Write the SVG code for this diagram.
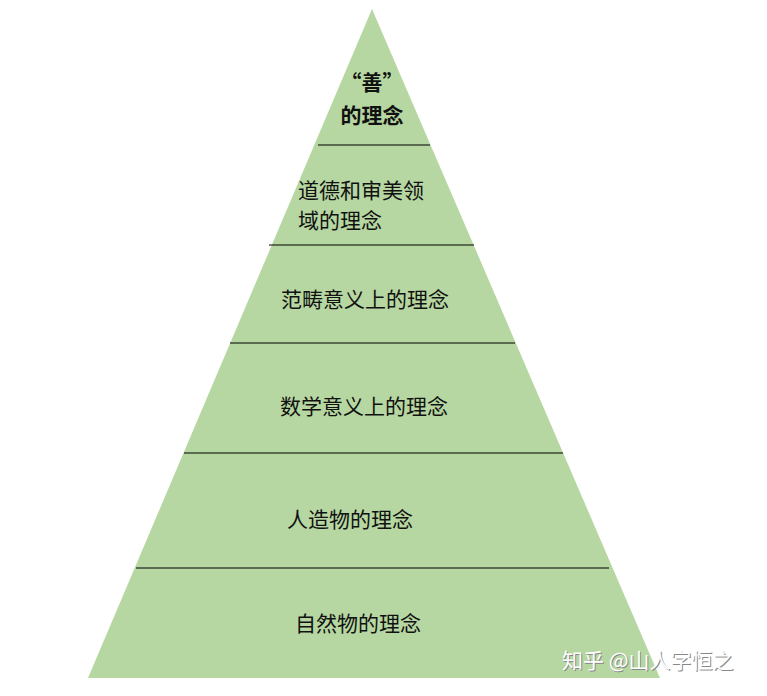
<svg xmlns="http://www.w3.org/2000/svg" width="767" height="696" viewBox="0 0 767 696">
<style>
.t{font-family:"Noto Sans CJK SC","Noto Sans CJK JP",sans-serif;font-size:21px;fill:#111}
.b{font-weight:bold}
.l{stroke:#000;stroke-width:1.2}
.w{font-family:"Noto Sans CJK SC",sans-serif;font-size:21px;fill:#fff}
</style>
<rect width="767" height="696" fill="#fff"/>
<g id="pyramid"><polygon points="372,9 88,678 660,678" fill="#b6d7a1"/></g>
<g id="connectors">
<line class="l" x1="318" y1="145" x2="430" y2="145"/>
<line class="l" x1="269" y1="245" x2="474" y2="245"/>
<line class="l" x1="230" y1="343" x2="515" y2="343"/>
<line class="l" x1="184" y1="453" x2="563" y2="453"/>
<line class="l" x1="136" y1="568" x2="609" y2="568"/>
</g>
<g id="n1"><text class="t b" x="372" y="90" text-anchor="middle">“善”</text><text class="t b" x="372" y="123" text-anchor="middle">的理念</text></g>
<g id="n2"><text class="t" x="298" y="198">道德和审美领</text><text class="t" x="298" y="228">域的理念</text></g>
<g id="n3"><text class="t" x="281" y="307">范畴意义上的理念</text></g>
<g id="n4"><text class="t" x="280" y="414">数学意义上的理念</text></g>
<g id="n5"><text class="t" x="287" y="527">人造物的理念</text></g>
<g id="n6"><text class="t" x="295" y="631">自然物的理念</text></g>
<g id="watermark">
<text class="w" x="563" y="669" fill="#777" style="fill:#888">知乎 @山人字恒之</text>
<text class="w" x="562" y="668">知乎 @山人字恒之</text>
</g>
</svg>
